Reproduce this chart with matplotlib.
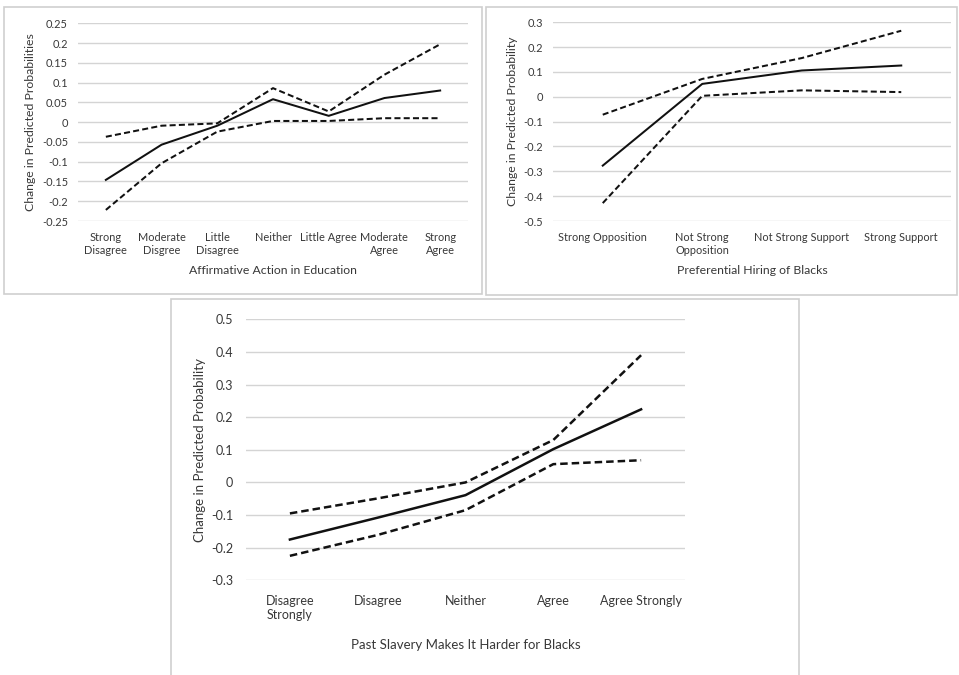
import matplotlib
matplotlib.use("Agg")
import matplotlib.pyplot as plt
from matplotlib.patches import Rectangle

# ---------------- data ----------------
edu_cats = ["Strong\nDisagree", "Moderate\nDisgree", "Little\nDisagree", "Neither",
            "Little Agree", "Moderate\nAgree", "Strong\nAgree"]
edu_est = [-0.146, -0.057, -0.009, 0.058, 0.016, 0.061, 0.080]
edu_hi = [-0.037, -0.009, -0.003, 0.086, 0.027, 0.120, 0.197]
edu_lo = [-0.222, -0.104, -0.024, 0.003, 0.003, 0.010, 0.010]
edu_ticks = [0.25, 0.2, 0.15, 0.1, 0.05, 0, -0.05, -0.1, -0.15, -0.2, -0.25]
edu_tick_labels = ["0.25", "0.2", "0.15", "0.1", "0.05", "0", "-0.05", "-0.1", "-0.15", "-0.2", "-0.25"]

hire_cats = ["Strong Opposition", "Not Strong\nOpposition", "Not Strong Support", "Strong Support"]
hire_est = [-0.277, 0.052, 0.106, 0.126]
hire_hi = [-0.072, 0.072, 0.156, 0.266]
hire_lo = [-0.428, 0.004, 0.026, 0.019]
hire_ticks = [0.3, 0.2, 0.1, 0, -0.1, -0.2, -0.3, -0.4, -0.5]
hire_tick_labels = ["0.3", "0.2", "0.1", "0", "-0.1", "-0.2", "-0.3", "-0.4", "-0.5"]

slav_cats = ["Disagree\nStrongly", "Disagree", "Neither", "Agree", "Agree Strongly"]
slav_est = [-0.175, -0.108, -0.039, 0.102, 0.224]
slav_hi = [-0.095, -0.049, 0.000, 0.130, 0.390]
slav_lo = [-0.225, -0.161, -0.085, 0.056, 0.068]
slav_ticks = [0.5, 0.4, 0.3, 0.2, 0.1, 0, -0.1, -0.2, -0.3]
slav_tick_labels = ["0.5", "0.4", "0.3", "0.2", "0.1", "0", "-0.1", "-0.2", "-0.3"]

# ---------------- figure ----------------
W, H = 959, 675
plt.rcParams['font.family'] = ['Lato', 'DejaVu Sans']
fig = plt.figure(figsize=(W / 100, H / 100), dpi=100)
fig.patch.set_facecolor("white")

TXT = "#383838"
GRID = "#d4d4d4"
BOX = "#cfcfcf"


def px_axes(x0, x1, ytop, ybot):
    return fig.add_axes([x0 / W, (H - ybot) / H, (x1 - x0) / W, (ybot - ytop) / H])


def box(x0, x1, ytop, ybot):
    fig.patches.append(Rectangle((x0 / W, (H - ybot) / H), (x1 - x0) / W, (ybot - ytop) / H,
                                 transform=fig.transFigure, fill=False, edgecolor=BOX,
                                 linewidth=1.2, zorder=0))


def panel(ax, cats, est, hi, lo, ticks, tlabels, xlabel, ylabel, fs, lfs, pad,
          ylab_x, xlab_y, lw):
    n = len(cats)
    xs = list(range(n))
    ax.set_xlim(-0.5, n - 0.5)
    ax.set_ylim(min(ticks), max(ticks))
    ax.set_yticks(ticks)
    ax.set_yticklabels(tlabels)
    ax.set_xticks(xs)
    ax.set_xticklabels(cats, linespacing=1.2)
    for s in ax.spines.values():
        s.set_visible(False)
    ax.grid(axis="y", color=GRID, linewidth=1.0)
    ax.set_axisbelow(True)
    ax.tick_params(axis="both", length=0, labelsize=fs, colors=TXT)
    ax.tick_params(axis="x", pad=pad)
    ax.tick_params(axis="y", pad=pad * 0.9)
    ax.plot(xs, hi, color="#111111", linewidth=lw, linestyle=(0, (3, 1.6)))
    ax.plot(xs, lo, color="#111111", linewidth=lw, linestyle=(0, (3, 1.6)))
    ax.plot(xs, est, color="#111111", linewidth=lw)
    ax.set_xlabel(xlabel, fontsize=lfs, color=TXT)
    ax.set_ylabel(ylabel, fontsize=lfs, color=TXT)
    ax.xaxis.set_label_coords(0.5, xlab_y)
    ax.xaxis.label.set_va("center")
    ax.yaxis.set_label_coords(ylab_x, 0.5)
    ax.yaxis.label.set_va("center")
    ax.set_facecolor("none")


# boxes
box(4, 482, 7, 294)
box(486, 957, 7, 295)
box(171, 799, 299, 676)

# top-left
ax1 = px_axes(78, 468, 23.3, 221)
panel(ax1, edu_cats, edu_est, edu_hi, edu_lo, edu_ticks, edu_tick_labels,
      "Affirmative Action in Education", "Change in Predicted Probabilities",
      7.9, 8.8, 8.0, (31 - 78) / 390, (221 - 271) / 197.7, 1.45)

# top-right
ax2 = px_axes(553, 951, 22.3, 221)
panel(ax2, hire_cats, hire_est, hire_hi, hire_lo, hire_ticks, hire_tick_labels,
      "Preferential Hiring of Blacks", "Change in Predicted Probability",
      7.9, 8.8, 8.0, (512 - 553) / 398, (221 - 271) / 198.7, 1.45)

# bottom
ax3 = px_axes(246, 685, 319.3, 580.3)
panel(ax3, slav_cats, slav_est, slav_hi, slav_lo, slav_ticks, slav_tick_labels,
      "Past Slavery Makes It Harder for Blacks", "Change in Predicted Probability",
      9.0, 9.5, 10.5, (200 - 246) / 439, (580.3 - 645) / 261, 1.8)

fig.savefig("out.png", dpi=100, facecolor="white")
